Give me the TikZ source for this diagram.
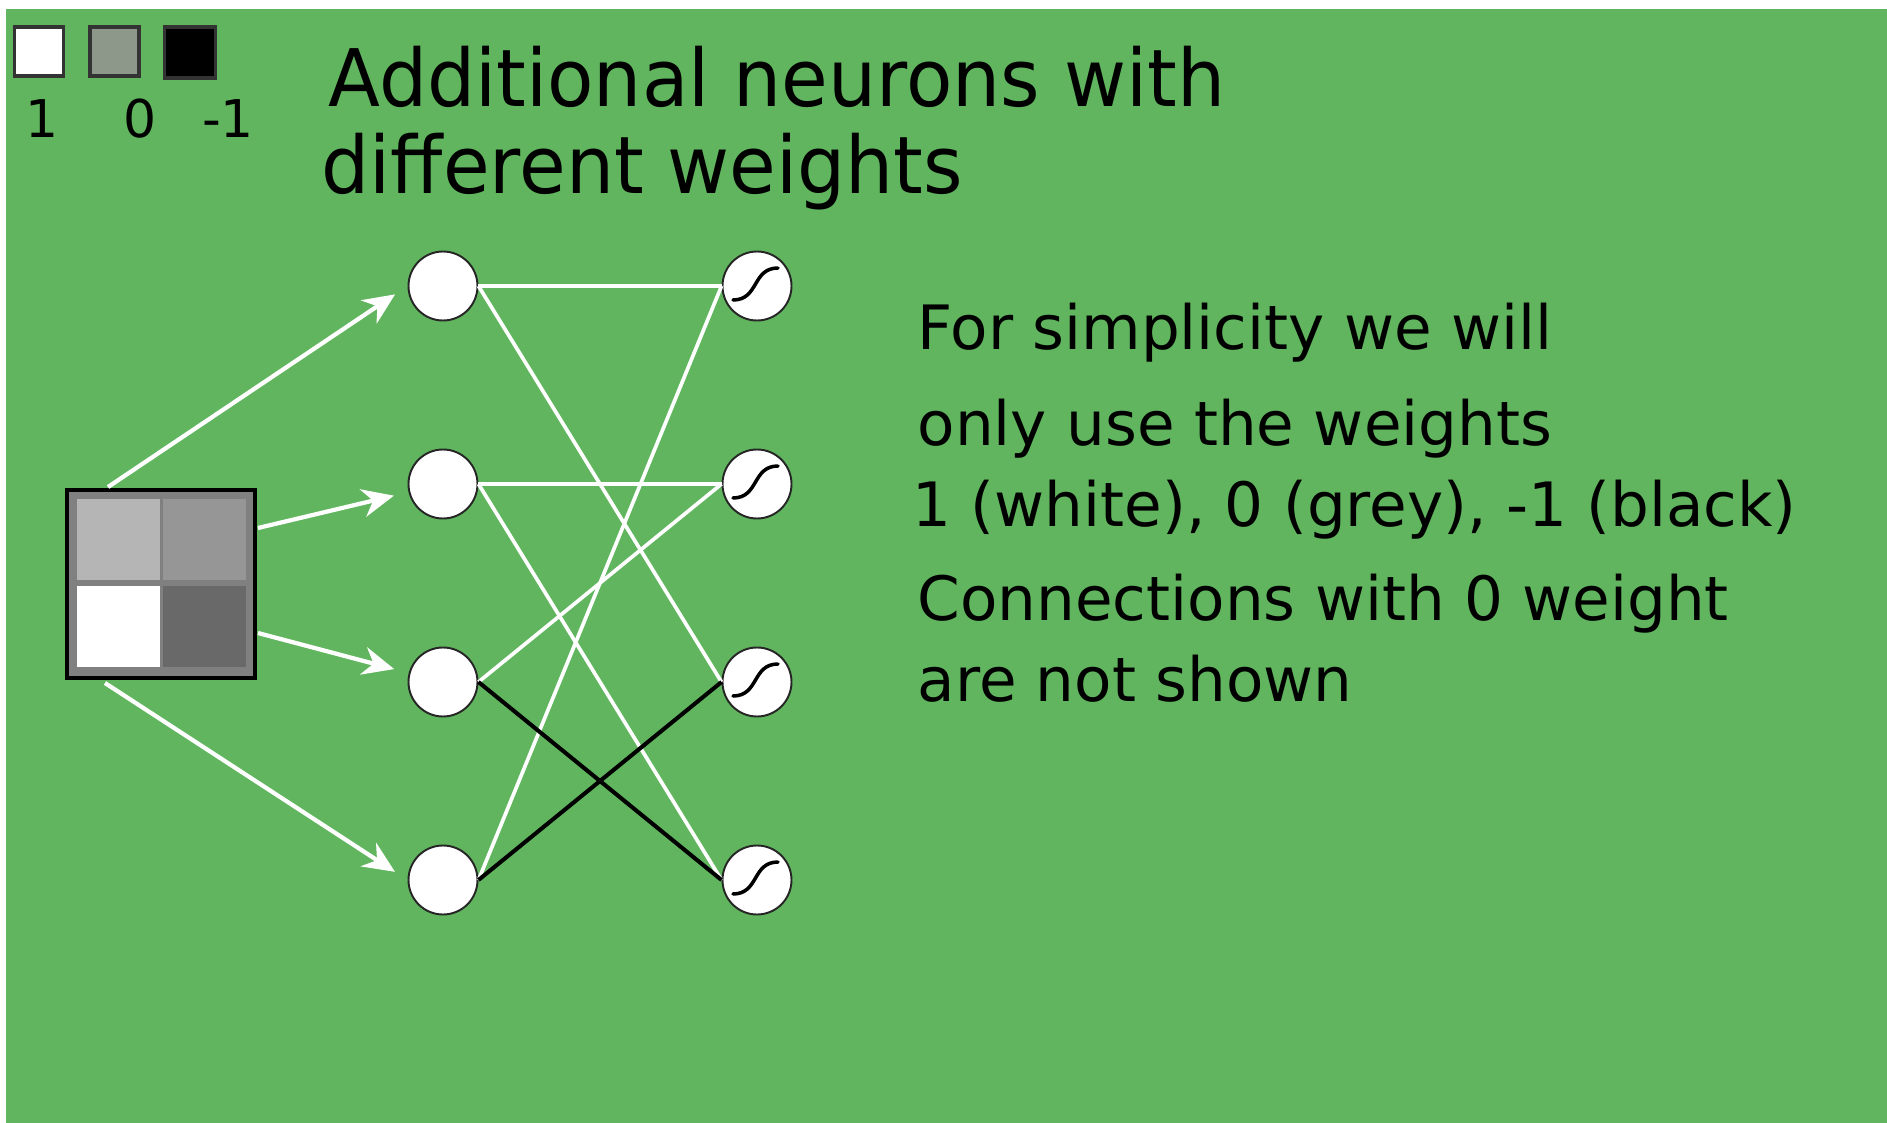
\documentclass[tikz,border=0pt]{standalone}
\usepackage{fontspec}
\setmainfont{DejaVu Sans}
\newfontfamily\titlefont[FakeStretch=0.955]{DejaVu Sans}
\usetikzlibrary{arrows.meta,calc}
\definecolor{leafgreen}{RGB}{96,181,94}
\definecolor{legendgrey}{RGB}{141,152,139}

\begin{document}
\begin{tikzpicture}[x=1cm, y=-1cm, >={Stealth[length=9pt,width=8pt]},
  neuron/.style={draw=black!85, line width=0.55pt, circle, fill=white, minimum size=0.69cm, inner sep=0pt},
  cell/.style={minimum width=0.83cm, minimum height=0.81cm, inner sep=0pt},
  legbox/.style={draw=black!80, line width=0.9pt, minimum size=0.49cm, inner sep=0pt},
  poslink/.style={white, line width=1.05pt},
  neglink/.style={black, line width=1.15pt},
  feed/.style={white, line width=1.2pt, ->, shorten >=0.15cm},
  bigtext/.style={anchor=base west, inner sep=0pt, font=\titlefont\fontsize{22.6}{27}\selectfont},
  note/.style={anchor=base west, inner sep=0pt, font=\fontsize{17.4}{21}\selectfont}]
  \fill[white] (0,0) rectangle (18.87,11.23);
  \fill[leafgreen] (0.06,0.09) rectangle (18.87,11.23);
  \useasboundingbox (0,0) rectangle (18.87,11.23);

  % legend
  \node[legbox, fill=white] (lw) at (0.39,0.515) {};
  \node[legbox, fill=legendgrey] (lg) at (1.145,0.515) {};
  \node[legbox, fill=black, minimum size=0.51cm] (lb) at (1.90,0.525) {};
  \node[anchor=base, inner sep=0pt, font=\fontsize{14.8}{18}\selectfont] (vw) at (0.42,1.37) {1};
  \node[anchor=base, inner sep=0pt, font=\fontsize{14.8}{18}\selectfont] (vg) at (1.40,1.37) {0};
  \node[anchor=base, inner sep=0pt, font=\fontsize{14.8}{18}\selectfont] (vb) at (2.28,1.37) {-1};

  \node[bigtext] (title1) at (3.28,1.06) {Additional neurons with};
  \node[bigtext] (title2) at (3.21,1.93) {different weights};

  % input image
  \node[draw=black, line width=1.15pt, fill=black!50, minimum size=1.88cm, inner sep=0pt] (sq) at (1.61,5.84) {};
  \foreach \n/\x/\y/\g in {tl/1.185/5.39/29, tr/2.045/5.39/41, bl/1.185/6.26/0, br/2.045/6.26/59}
    \node[cell, fill=black!\g] (c\n) at (\x,\y) {};

  % neurons
  \foreach \i in {1,...,4} {
    \node[neuron] (h\i) at (4.43,0.88+1.98*\i) {};
    \node[neuron] (o\i) at (7.57,0.88+1.98*\i) {};
    \draw[line width=1pt, line cap=round] ($(o\i)+(-0.24,0.14)$) .. controls +(0.26,0) and +(-0.26,0) .. ($(o\i)+(0.21,-0.18)$);
  }

  \coordinate (s1) at (1.08,4.87);
  \coordinate (s2) at (2.58,5.28);
  \coordinate (s3) at (2.58,6.33);
  \coordinate (s4) at (1.05,6.83);
  \draw[feed] (s1) -- (h1.west);
  \draw[feed] (s2) -- (h2);
  \draw[feed] (s3) -- (h3);
  \draw[feed] (s4) -- (h4.west);

  \draw[poslink] (h1.east) -- (o1.west);
  \draw[poslink] (h1.east) -- (o3.west);
  \draw[poslink] (h2.east) -- (o2.west);
  \draw[poslink] (h2.east) -- (o4.west);
  \draw[poslink] (h3.east) -- (o2.west);
  \draw[poslink] (h4.east) -- (o1.west);
  \draw[neglink] (h3.east) -- (o4.west);
  \draw[neglink] (h4.east) -- (o3.west);

  \node[note] (txt1) at (9.17,3.49) {For simplicity we will};
  \node[note] (txt2) at (9.17,4.45) {only use the weights};
  \node[note] (txt3) at (9.12,5.26) {1 (white), 0 (grey), -1 (black)};
  \node[note] (txt4) at (9.17,6.20) {Connections with 0 weight};
  \node[note] (txt5) at (9.17,7.01) {are not shown};
\end{tikzpicture}
\end{document}
